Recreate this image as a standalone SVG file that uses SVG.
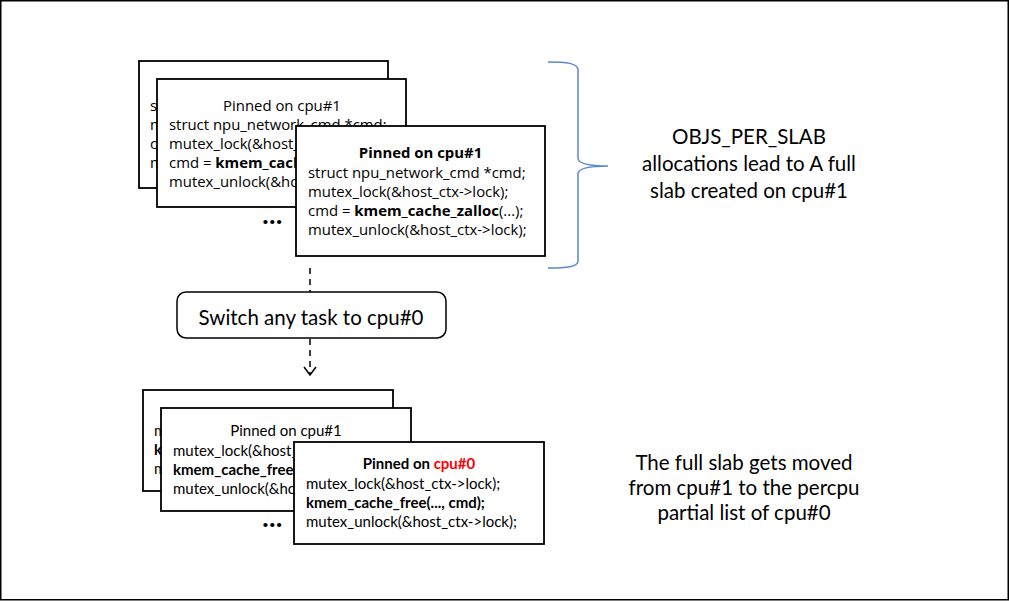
<svg xmlns="http://www.w3.org/2000/svg" width="1010" height="601" viewBox="0 0 1010 601">
<style>
.box{fill:#fff;stroke:#000;stroke-width:1.8}
.t1{font-family:"Open Sans","Noto Sans",sans-serif;font-size:14.9px;fill:#000}
.t2{font-family:Lato,"Liberation Sans",sans-serif;font-size:15px;fill:#000}
.big{font-family:Lato,"Liberation Sans",sans-serif;font-size:20.5px;fill:#000;text-anchor:middle}
.b{font-weight:bold}
.dots{font-family:"Open Sans","Noto Sans",sans-serif;font-size:24px;font-weight:bold;fill:#000}
.dash{fill:none;stroke:#000;stroke-width:1.5;stroke-dasharray:6,5}
</style>
<defs>
<marker id="vArrow" markerWidth="12" markerHeight="14" refX="10" refY="7" orient="auto" markerUnits="userSpaceOnUse" viewBox="0 0 12 14">
<path d="M2,1 L10,7 L2,13" fill="none" stroke="#000" stroke-width="1.5"/>
</marker>
</defs>
<rect x="0.75" y="0.75" width="1007.5" height="599" fill="#fff" stroke="#000" stroke-width="1.5"/>

<g id="top-back">
<rect class="box" x="139" y="61" width="249" height="127"/>
<text class="t1" x="150" y="111">struct npu_network_cmd *cmd;</text>
<text class="t1" x="150" y="130">mutex_lock(&amp;host_ctx-&gt;lock);</text>
<text class="t1" x="150" y="149">cmd = <tspan class="b">kmem_cache_zalloc</tspan>(...);</text>
<text class="t1" x="150" y="168">mutex_unlock(&amp;host_ctx-&gt;lock);</text>
</g>
<g id="top-middle">
<rect class="box" x="157" y="79" width="249" height="128"/>
<text class="t1" x="282" y="111" text-anchor="middle">Pinned on cpu#1</text>
<text class="t1" x="169" y="130">struct npu_network_cmd *cmd;</text>
<text class="t1" x="169" y="149">mutex_lock(&amp;host_ctx-&gt;lock);</text>
<text class="t1" x="169" y="168">cmd = <tspan class="b">kmem_cache_zalloc</tspan>(...);</text>
<text class="t1" x="169" y="187">mutex_unlock(&amp;host_ctx-&gt;lock);</text>
</g>
<g id="top-dots">
<text class="dots" x="262" y="224">…</text>
</g>
<g id="top-front">
<rect class="box" x="296" y="126" width="249" height="130"/>
<text class="t1 b" x="420.5" y="158" text-anchor="middle">Pinned on cpu#1</text>
<text class="t1" x="308" y="178">struct npu_network_cmd *cmd;</text>
<text class="t1" x="308" y="197">mutex_lock(&amp;host_ctx-&gt;lock);</text>
<text class="t1" x="308" y="216">cmd = <tspan class="b">kmem_cache_zalloc</tspan>(...);</text>
<text class="t1" x="308" y="235">mutex_unlock(&amp;host_ctx-&gt;lock);</text>
</g>

<g id="switch">
<rect x="177" y="292" width="269" height="46" rx="9" fill="#fff" stroke="#000" stroke-width="1.5"/>
<text class="big" x="311" y="325">Switch any task to cpu#0</text>
</g>

<g id="bottom-back">
<rect class="box" x="143" y="390" width="250" height="101"/>
<text class="t2" x="154" y="436">mutex_lock(&amp;host_ctx-&gt;lock);</text>
<text class="t2 b" x="154" y="455">kmem_cache_free(..., cmd);</text>
<text class="t2" x="154" y="474">mutex_unlock(&amp;host_ctx-&gt;lock);</text>
</g>
<g id="bottom-middle">
<rect class="box" x="161" y="408" width="250" height="103"/>
<text class="t2" x="286" y="436" text-anchor="middle">Pinned on cpu#1</text>
<text class="t2" x="173" y="456">mutex_lock(&amp;host_ctx-&gt;lock);</text>
<text class="t2 b" x="173" y="475">kmem_cache_free(..., cmd);</text>
<text class="t2" x="173" y="494">mutex_unlock(&amp;host_ctx-&gt;lock);</text>
</g>
<g id="bottom-dots">
<text class="dots" x="262" y="527">…</text>
</g>
<g id="bottom-front">
<rect class="box" x="294" y="442" width="250" height="102"/>
<text class="t2 b" x="419" y="469" text-anchor="middle">Pinned on <tspan fill="#ff0000">cpu#0</tspan></text>
<text class="t2" x="306" y="489">mutex_lock(&amp;host_ctx-&gt;lock);</text>
<text class="t2 b" x="306" y="508">kmem_cache_free(..., cmd);</text>
<text class="t2" x="306" y="527">mutex_unlock(&amp;host_ctx-&gt;lock);</text>
</g>

<g id="brace">
<path d="M548,62 C566,62 578,63 578,70 L578,158 C578,164 590,166 608,166 C590,166 578,168 578,174 L578,261 C578,267 566,268 548,268" fill="none" stroke="#5b87cf" stroke-width="1.5"/>
</g>

<g id="label-top">
<text class="big" x="749" y="144">OBJS_PER_SLAB</text>
<text class="big" x="749" y="171">allocations lead to A full</text>
<text class="big" x="749" y="198">slab created on cpu#1</text>
</g>
<g id="label-bottom">
<text class="big" x="744" y="470">The full slab gets moved</text>
<text class="big" x="744" y="495">from cpu#1 to the percpu</text>
<text class="big" x="744" y="520">partial list of cpu#0</text>
</g>

<g id="connectors">
<line class="dash" x1="310" y1="268" x2="310" y2="292"/>
<line class="dash" x1="310" y1="339" x2="310" y2="375" marker-end="url(#vArrow)"/>
</g>
</svg>
